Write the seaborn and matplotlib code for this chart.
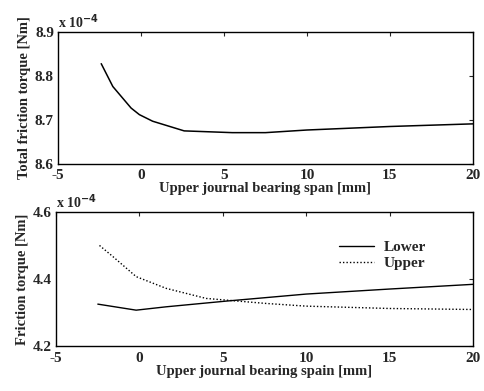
import numpy as np
import pandas as pd
import matplotlib
matplotlib.use("Agg")
import matplotlib.pyplot as plt
import seaborn as sns

# Top panel: total friction torque (x 1e-4 Nm)
span_total = [-2.4, -1.7, -0.6, -0.1, 0.7, 2.6, 5.5, 7.5, 10.0, 15.0, 20.0]
total_torque = [8.828, 8.776, 8.727, 8.712, 8.697, 8.675, 8.671, 8.671, 8.677, 8.685, 8.691]

# Bottom panel: lower / upper bearing friction torque (x 1e-4 Nm)
span_lower = [-2.5, -0.2, 1.6, 5.2, 10.0, 15.0, 20.0]
lower_torque = [4.325, 4.307, 4.317, 4.334, 4.355, 4.370, 4.384]
span_upper = [-2.4, -1.6, -0.2, 1.6, 4.0, 7.6, 10.0, 15.0, 20.0]
upper_torque = [4.500, 4.467, 4.407, 4.372, 4.342, 4.327, 4.319, 4.312, 4.309]

xticks = [-5, 0, 5, 10, 15, 20]
yticks_top = [8.6, 8.7, 8.8, 8.9]
yticks_bot = [4.2, 4.4, 4.6]

sns.set_style("white")
plt.rcParams['font.family'] = ['Liberation Serif', 'DejaVu Serif']
plt.rcParams['font.weight'] = 'bold'

fig = plt.figure(figsize=(4.84, 3.91), dpi=100)
ax1 = fig.add_axes([0.120, 0.581, 0.857, 0.337])
ax2 = fig.add_axes([0.116, 0.115, 0.861, 0.343])

df_top = pd.DataFrame({"span": span_total, "torque": total_torque})
sns.lineplot(data=df_top, x="span", y="torque", ax=ax1, color="black", lw=1.1)

df_bot = pd.concat([
    pd.DataFrame({"span": span_lower, "torque": lower_torque, "Bearing": "Lower"}),
    pd.DataFrame({"span": span_upper, "torque": upper_torque, "Bearing": "Upper"}),
])
sns.lineplot(data=df_bot, x="span", y="torque", hue="Bearing", style="Bearing",
             palette={"Lower": "black", "Upper": "black"},
             dashes={"Lower": "", "Upper": (1, 1.5)}, ax=ax2, lw=1.0)

for ax, yt, ylab, xlab in [
    (ax1, yticks_top, "Total friction torque [Nm]", "Upper journal bearing span [mm]"),
    (ax2, yticks_bot, "Friction torque [Nm]", "Upper journal bearing spain [mm]"),
]:
    ax.set_xlim(-5, 20)
    ax.set_ylim(yt[0], yt[-1])
    ax.set_xticks(xticks)
    ax.set_yticks(yt)
    ax.set_xticklabels([str(t) for t in xticks], fontsize=11, fontweight='bold')
    ax.set_yticklabels([f"{t:.1f}" for t in yt], fontsize=11, fontweight='bold')
    ax.tick_params(direction='in', top=True, right=True, length=3, width=0.8)
    ax.tick_params(axis='x', pad=4)
    ax.tick_params(axis='y', pad=3)
    ax.set_xlabel(xlab, fontsize=10.5, fontweight='bold', labelpad=0)
    ax.set_ylabel(ylab, fontsize=10.5, fontweight='bold', labelpad=3)
    for s in ax.spines.values():
        s.set_color("black")
        s.set_linewidth(1.0)
    ax.text(0.0, 1.01, r"x 10$^{-4}$", transform=ax.transAxes, fontsize=10,
            fontweight='bold', ha='left', va='bottom')

leg = ax2.legend(loc='upper right', bbox_to_anchor=(0.92, 0.89), frameon=False,
                 fontsize=11, handlelength=2.3, handletextpad=0.6, labelspacing=0.15)
for t in leg.get_texts():
    t.set_fontweight('bold')

fig.savefig("out.png", dpi=100, facecolor="white")
